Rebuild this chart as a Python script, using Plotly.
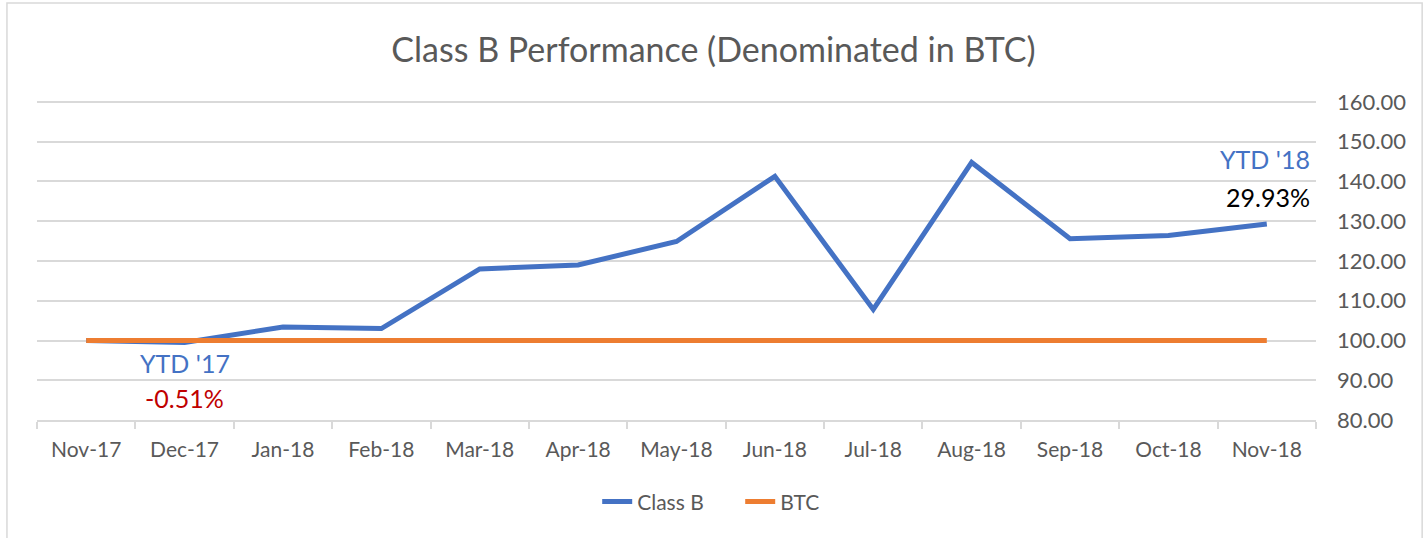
import plotly.graph_objects as go

months = ["Nov-17", "Dec-17", "Jan-18", "Feb-18", "Mar-18", "Apr-18", "May-18",
          "Jun-18", "Jul-18", "Aug-18", "Sep-18", "Oct-18", "Nov-18"]
class_b = [100.00, 99.49, 103.4, 103.0, 118.0, 119.0, 124.9,
           141.3, 107.8, 144.8, 125.6, 126.4, 129.3]
btc = [100.00] * 13
y_ticks = [80, 90, 100, 110, 120, 130, 140, 150, 160]

ytd_17 = "-0.51%"
ytd_18 = "29.93%"

BLUE = "#4472C4"
ORANGE = "#ED7D31"
GREY = "#595959"
GRID = "#D9D9D9"
FONT = "Lato, 'Open Sans', sans-serif"

fig = go.Figure()

fig.add_trace(go.Scatter(
    x=months,
    y=class_b,
    mode="lines",
    name="Class B",
    line=dict(color=BLUE, width=5)
))

fig.add_trace(go.Scatter(
    x=months,
    y=btc,
    mode="lines",
    name="BTC",
    line=dict(color=ORANGE, width=5)
))

# YTD callouts
fig.add_annotation(x="Dec-17", y=94.3, text="YTD '17", showarrow=False,
                   font=dict(color=BLUE, size=25, family=FONT))
fig.add_annotation(x="Dec-17", y=85.6, text=ytd_17, showarrow=False,
                   font=dict(color="#C00000", size=25, family=FONT))
fig.add_annotation(x=0.997, xref="paper", y=145.6, text="YTD '18", showarrow=False,
                   xanchor="right", font=dict(color=BLUE, size=25, family=FONT))
fig.add_annotation(x=0.997, xref="paper", y=136.2, text=ytd_18, showarrow=False,
                   xanchor="right", font=dict(color="black", size=25, family=FONT))

# chart frame like the Excel chart area
fig.add_shape(type="rect", xref="paper", yref="paper",
              x0=-0.0235, x1=1.083, y0=-0.6, y1=1.303,
              line=dict(color=GRID, width=1.5), fillcolor="rgba(0,0,0,0)", layer="below")

fig.update_layout(
    width=1427,
    height=538,
    margin=dict(l=37, r=111, t=100, b=118),
    title=dict(text="Class B Performance (Denominated in BTC)",
               x=0.5, xref="container", y=0.907, yanchor="middle",
               font=dict(size=34, color=GREY, family=FONT)),
    font=dict(family=FONT, color=GREY, size=21),
    plot_bgcolor="white",
    paper_bgcolor="white",
    showlegend=True,
    legend=dict(orientation="h", x=0.438, xanchor="left", y=-0.256, yanchor="middle",
                entrywidth=98,
                font=dict(size=21, color=GREY, family=FONT)),
    xaxis=dict(
        type="category",
        range=[-0.5, 12.5],
        showgrid=False,
        showline=True,
        linecolor=GRID,
        linewidth=1.5,
        ticks="outside",
        tickson="boundaries",
        tickcolor=GRID,
        ticklen=7,
        tickwidth=1.5,
        tickfont=dict(size=21, color=GREY),
        ticklabelstandoff=10,
    ),
    yaxis=dict(
        side="right",
        # a little headroom above 160 so the top gridline is not clipped away
        range=[80, 160.5],
        tickvals=y_ticks,
        tickformat=".2f",
        showgrid=True,
        gridcolor=GRID,
        gridwidth=1.5,
        zeroline=False,
        showline=False,
        tickfont=dict(size=22, color=GREY),
        ticklabelstandoff=20,
    ),
)

# drop the default body margin so the figure sits at the page origin
fig.write_html("out.html", config={"displayModeBar": False},
               post_script="document.body.style.margin = '0';")
